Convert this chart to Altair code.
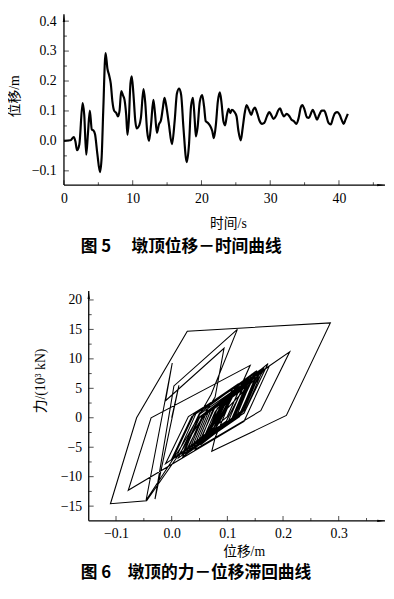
import altair as alt
import pandas as pd

# ---------------- data: Fig.5 pier-top displacement time history ----------------
time_s = [0.00, 0.95, 1.43, 1.67, 1.90, 2.24, 2.71, 2.95, 3.24, 3.48, 3.76, 4.05, 4.29, 4.52,
          4.86, 5.24, 5.48, 5.71, 6.05, 6.33, 6.57, 6.81, 7.05, 7.29, 7.62, 7.86, 8.10, 8.33,
          8.57, 8.81, 9.05, 9.24, 9.43, 9.67, 9.86, 10.10, 10.38, 10.57, 10.95, 11.19, 11.57,
          11.81, 12.10, 12.38, 12.67, 13.00, 13.24, 13.52, 13.81, 14.10, 14.38, 14.62, 14.86,
          15.24, 15.71, 16.10, 16.43, 16.76, 17.05, 17.38, 17.86, 18.19, 18.48, 18.76, 19.00,
          19.19, 19.43, 19.76, 20.10, 20.38, 20.62, 20.95, 21.29, 21.57, 21.81, 22.10, 22.38,
          22.67, 22.90, 23.19, 23.43, 23.71, 23.95, 24.19, 24.43, 24.76, 25.10, 25.38, 25.71,
          26.00, 26.29, 26.57, 26.90, 27.24, 27.52, 27.76, 28.10, 28.43, 28.81, 29.14, 29.52,
          29.86, 30.14, 30.48, 30.81, 31.14, 31.43, 31.71, 32.00, 32.38, 32.71, 33.10, 33.43,
          33.81, 34.14, 34.43, 34.67, 35.00, 35.33, 35.62, 35.90, 36.19, 36.52, 36.81, 37.14,
          37.48, 37.86, 38.19, 38.48, 38.81, 39.14, 39.43, 39.76, 40.10, 40.38, 40.67, 40.95,
          41.29]
disp_m = [0.000, 0.002, 0.013, -0.002, -0.031, -0.011, 0.126, 0.087, -0.046, 0.022, 0.101,
          0.038, 0.035, 0.022, -0.044, -0.104, -0.055, 0.098, 0.293, 0.240, 0.219, 0.191,
          0.131, 0.101, 0.093, 0.082, 0.104, 0.166, 0.153, 0.137, 0.087, 0.020, 0.066, 0.191,
          0.216, 0.158, 0.066, 0.042, 0.052, 0.077, 0.173, 0.131, 0.033, 0.000, 0.055, 0.137,
          0.093, 0.027, 0.055, 0.068, 0.109, 0.144, 0.120, 0.060, -0.011, 0.066, 0.158, 0.175,
          0.153, 0.044, -0.071, -0.011, 0.115, 0.144, 0.077, 0.015, 0.044, 0.131, 0.153,
          0.115, 0.066, 0.060, 0.049, 0.033, 0.009, 0.055, 0.131, 0.162, 0.131, 0.066, 0.052,
          0.087, 0.107, 0.093, 0.104, 0.098, 0.082, 0.033, 0.002, 0.044, 0.093, 0.120, 0.104,
          0.087, 0.104, 0.111, 0.093, 0.068, 0.057, 0.060, 0.082, 0.096, 0.087, 0.073, 0.082,
          0.101, 0.109, 0.093, 0.082, 0.090, 0.085, 0.071, 0.066, 0.057, 0.077, 0.111, 0.120,
          0.104, 0.079, 0.077, 0.090, 0.104, 0.087, 0.071, 0.087, 0.101, 0.101, 0.082, 0.060,
          0.055, 0.077, 0.093, 0.096, 0.087, 0.071, 0.057, 0.071, 0.090]

# ---------------- data: Fig.6 force-displacement hysteresis path ----------------
hyst_disp = [0.000, 0.013, -0.030, 0.004, 0.118, 0.071, 0.020, -0.046, 0.001, -0.011,
             0.094, 0.078, 0.035, 0.038, 0.022, -0.045, -0.110, -0.063, 0.028, 0.285,
             0.206, 0.072, 0.078, 0.100, 0.166, 0.137, 0.141, 0.120, 0.020, 0.050,
             0.212, 0.160, 0.042, 0.052, 0.077, 0.173, 0.130, 0.000, 0.036, 0.137,
             0.098, 0.027, 0.055, 0.068, 0.060, 0.144, 0.110, -0.011, 0.030, 0.175,
             0.130, -0.078, -0.037, 0.141, 0.100, 0.015, 0.050, 0.153, 0.112, 0.009,
             0.045, 0.162, 0.122,
             0.030, 0.058, 0.150, 0.122, 0.020, 0.050, 0.158, 0.128,
             0.040, 0.066, 0.140, 0.112, 0.012, 0.044, 0.165, 0.134,
             0.050, 0.074, 0.132, 0.106, 0.026, 0.055, 0.146, 0.118,
             0.060, 0.082, 0.125, 0.100, 0.035, 0.062, 0.155, 0.126,
             0.045, 0.070, 0.136, 0.110, 0.018, 0.048, 0.160, 0.130,
             0.052, 0.078, 0.107, 0.093, 0.104, 0.080, 0.002, 0.040, 0.120, 0.087,
             0.111, 0.090, 0.057, 0.080, 0.096, 0.073, 0.109, 0.082, 0.090, 0.085,
             0.057, 0.085, 0.120, 0.095, 0.079, 0.104, 0.071, 0.101, 0.078, 0.055,
             0.080, 0.096, 0.070, 0.057, 0.090]
hyst_force = [0.0, 5.5, -13.8, 5.4, 15.0, 4.0, -4.5, -14.0, 9.3, 2.9,
              11.8, 3.5, -3.0, -2.2, -5.0, -14.1, -14.6, 0.0, 14.7, 16.1,
              0.4, -5.7, -3.4, 1.6, 8.2, 3.8, 4.6, 0.2, -6.6, 0.6,
              11.2, 1.2, -5.4, -3.6, 1.6, 9.2, 0.8, -7.0, 0.2, 6.6,
              -0.6, -5.4, -0.2, 1.4, 0.4, 7.4, 0.0, -7.8, 0.2, 8.7,
              -0.6, -12.3, 0.0, 8.9, 0.2, -6.2, 0.8, 8.0, 0.0, -6.6,
              1.0, 8.3, 0.2,
              -5.8, 0.6, 6.8, 0.4, -6.2, 0.0, 7.6, 1.0,
              -5.0, 1.0, 6.0, -0.2, -6.8, -0.4, 8.4, 1.6,
              -4.4, 1.4, 5.2, -0.6, -6.0, 0.3, 7.0, 0.6,
              -3.8, 1.6, 4.6, -1.0, -5.4, 0.8, 7.4, 1.2,
              -4.6, 1.2, 5.6, -0.4, -6.4, 0.0, 8.0, 1.2,
              -4.6, 1.0, 4.4, 1.8, 3.5, -1.6, -7.0, 0.6, 5.8, -0.2,
              4.2, 0.2, -4.2, 0.4, 3.0, -1.5, 4.8, -0.4, 1.4, 0.4,
              -3.8, 1.4, 5.6, 0.8, -1.8, 3.2, -2.6, 3.4, -0.8, -4.2,
              0.6, 3.0, -1.8, -3.6, 2.4]

# axis ranges / ticks
top_x_domain = [0, 46.7]
top_y_domain = [-0.1475, 0.423]
top_x_major = [0, 10, 20, 30, 40]
top_x_minor = [5, 15, 25, 35, 45]
top_y_major = [-0.1, 0.0, 0.1, 0.2, 0.3, 0.4]
top_y_minor = [-0.05, 0.05, 0.15, 0.25, 0.35]

bot_x_domain = [-0.1935, 0.3832]
bot_axis_x = -0.149
bot_y_domain = [-17.5, 21.5]
bot_x_major = [-0.1, 0.0, 0.1, 0.2, 0.3]
bot_x_minor = [-0.05, 0.05, 0.15, 0.25, 0.35]
bot_y_major = [-15, -10, -5, 0, 5, 10, 15, 20]
bot_y_minor = [-12.5, -7.5, -2.5, 2.5, 7.5, 12.5, 17.5]

cap5 = "图 5　 墩顶位移－时间曲线"
cap6 = "图 6　墩顶的力－位移滞回曲线"

SERIF = "Liberation Serif, Noto Sans CJK SC"
CJK = "Noto Sans CJK SC"

TOP_W, TOP_H = 327, 174
BOT_W, BOT_H = 327, 234


def one():
    return pd.DataFrame({"k": [0]})


def decorations(xs, ys, xa, ya, x0, x1, y0, y1, xmaj, xmin_, ymaj, ymin_):
    layers = []
    # axis lines
    layers.append(alt.Chart(one()).mark_rule(color="black", strokeWidth=1.3).encode(
        x=alt.XDatum(x0, scale=xs, axis=xa), x2=alt.X2Datum(x1),
        y=alt.YDatum(y0, scale=ys, axis=ya)))
    layers.append(alt.Chart(one()).mark_rule(color="black", strokeWidth=1.3).encode(
        x=alt.XDatum(x0, scale=xs, axis=xa),
        y=alt.YDatum(y0, scale=ys, axis=ya), y2=alt.Y2Datum(y1)))
    # arrow heads (symmetric shapes, shifted so the tip sits on the axis end)
    layers.append(alt.Chart(one()).mark_point(
        shape="M0,-1L0.3,1L-0.3,1Z", size=64, filled=True, color="black",
        opacity=1, strokeWidth=0, yOffset=4).encode(
        x=alt.XDatum(x0, scale=xs, axis=xa), y=alt.YDatum(y1, scale=ys, axis=ya)))
    layers.append(alt.Chart(one()).mark_point(
        shape="M1,0L-1,0.3L-1,-0.3Z", size=64, filled=True, color="black",
        opacity=1, strokeWidth=0, xOffset=-4).encode(
        x=alt.XDatum(x1, scale=xs, axis=xa), y=alt.YDatum(y0, scale=ys, axis=ya)))
    # ticks (pointing inward)
    for vals, ln in ((xmaj, 5), (xmin_, 3)):
        layers.append(alt.Chart(pd.DataFrame({"v": vals})).mark_tick(
            color="black", thickness=1, size=ln, orient="vertical", yOffset=-ln / 2).encode(
            x=alt.X("v:Q", scale=xs, axis=xa),
            y=alt.YDatum(y0, scale=ys, axis=ya)))
    for vals, ln in ((ymaj, 5), (ymin_, 3)):
        layers.append(alt.Chart(pd.DataFrame({"v": vals})).mark_tick(
            color="black", thickness=1, size=ln, orient="horizontal", xOffset=ln / 2).encode(
            y=alt.Y("v:Q", scale=ys, axis=ya),
            x=alt.XDatum(x0, scale=xs, axis=xa)))
    return layers


axis_common = dict(domain=False, ticks=False, grid=False, labelFont="Liberation Serif",
                   labelFontSize=14, labelColor="black", labelFlush=False,
                   titleFont=SERIF, titleFontSize=14, titleFontWeight="normal",
                   titleColor="black", titleAlign="center", titleBaseline="middle")

# ---------------- top chart ----------------
xs1 = alt.Scale(domain=top_x_domain, nice=False, zero=False)
ys1 = alt.Scale(domain=top_y_domain, nice=False, zero=False)
xa1 = alt.Axis(values=top_x_major, format="d", title="时间/s",
               labelPadding=7, titleX=167, titleY=39, **axis_common)
ya1 = alt.Axis(values=top_y_major, format=".1f", title="位移/m",
               labelPadding=8, titleAngle=270, titleX=-50, titleY=83, **axis_common)
df_top = pd.DataFrame({"t": time_s, "d": disp_m, "i": list(range(len(time_s)))})

top_line = alt.Chart(df_top).mark_line(color="black", strokeWidth=2.2, interpolate="monotone").encode(
    x=alt.X("t:Q", scale=xs1, axis=xa1),
    y=alt.Y("d:Q", scale=ys1, axis=ya1),
    order="i:Q")

top_caption = alt.Chart(pd.DataFrame({"c": [cap5]})).mark_text(
    font=CJK, fontSize=17, fontWeight="bold", align="left", baseline="middle", color="black").encode(
    text="c:N", x=alt.value(17), y=alt.value(237))

top = alt.layer(top_line, *decorations(xs1, ys1, xa1, ya1, top_x_domain[0], top_x_domain[1],
                                        top_y_domain[0], top_y_domain[1],
                                        top_x_major, top_x_minor, top_y_major, top_y_minor),
                top_caption).properties(width=TOP_W, height=TOP_H)

# ---------------- bottom chart ----------------
xs2 = alt.Scale(domain=bot_x_domain, nice=False, zero=False)
ys2 = alt.Scale(domain=bot_y_domain, nice=False, zero=False)
y_off = -round((bot_axis_x - bot_x_domain[0]) * BOT_W / (bot_x_domain[1] - bot_x_domain[0]))
xa2 = alt.Axis(values=bot_x_major, format=".1f", title="位移/m",
               labelPadding=6, titleX=183, titleY=31, **axis_common)
ya2 = alt.Axis(values=bot_y_major, format="d", title="力/(10³ kN)",
               offset=y_off, labelPadding=7, titleAngle=270,
               titleX=-49, titleY=91, **axis_common)
df_h = pd.DataFrame({"x": hyst_disp, "f": hyst_force, "i": list(range(len(hyst_disp)))})

hyst = alt.Chart(df_h).mark_line(color="black", strokeWidth=1.1).encode(
    x=alt.X("x:Q", scale=xs2, axis=xa2),
    y=alt.Y("f:Q", scale=ys2, axis=ya2),
    order="i:Q")

bot_caption = alt.Chart(pd.DataFrame({"c": [cap6]})).mark_text(
    font=CJK, fontSize=17, fontWeight="bold", align="left", baseline="middle", color="black").encode(
    text="c:N", x=alt.value(17), y=alt.value(287))

bottom = alt.layer(hyst, *decorations(xs2, ys2, xa2, ya2, bot_axis_x, bot_x_domain[1],
                                       bot_y_domain[0], bot_y_domain[1],
                                       bot_x_major, bot_x_minor, bot_y_major, bot_y_minor),
                   bot_caption).properties(width=BOT_W, height=BOT_H)

chart = alt.vconcat(top, bottom, spacing=108, bounds="flush").properties(
    padding=0, background="white"
).configure_view(stroke=None)

chart.save("out.html", embed_options={"renderer": "svg", "actions": False})
